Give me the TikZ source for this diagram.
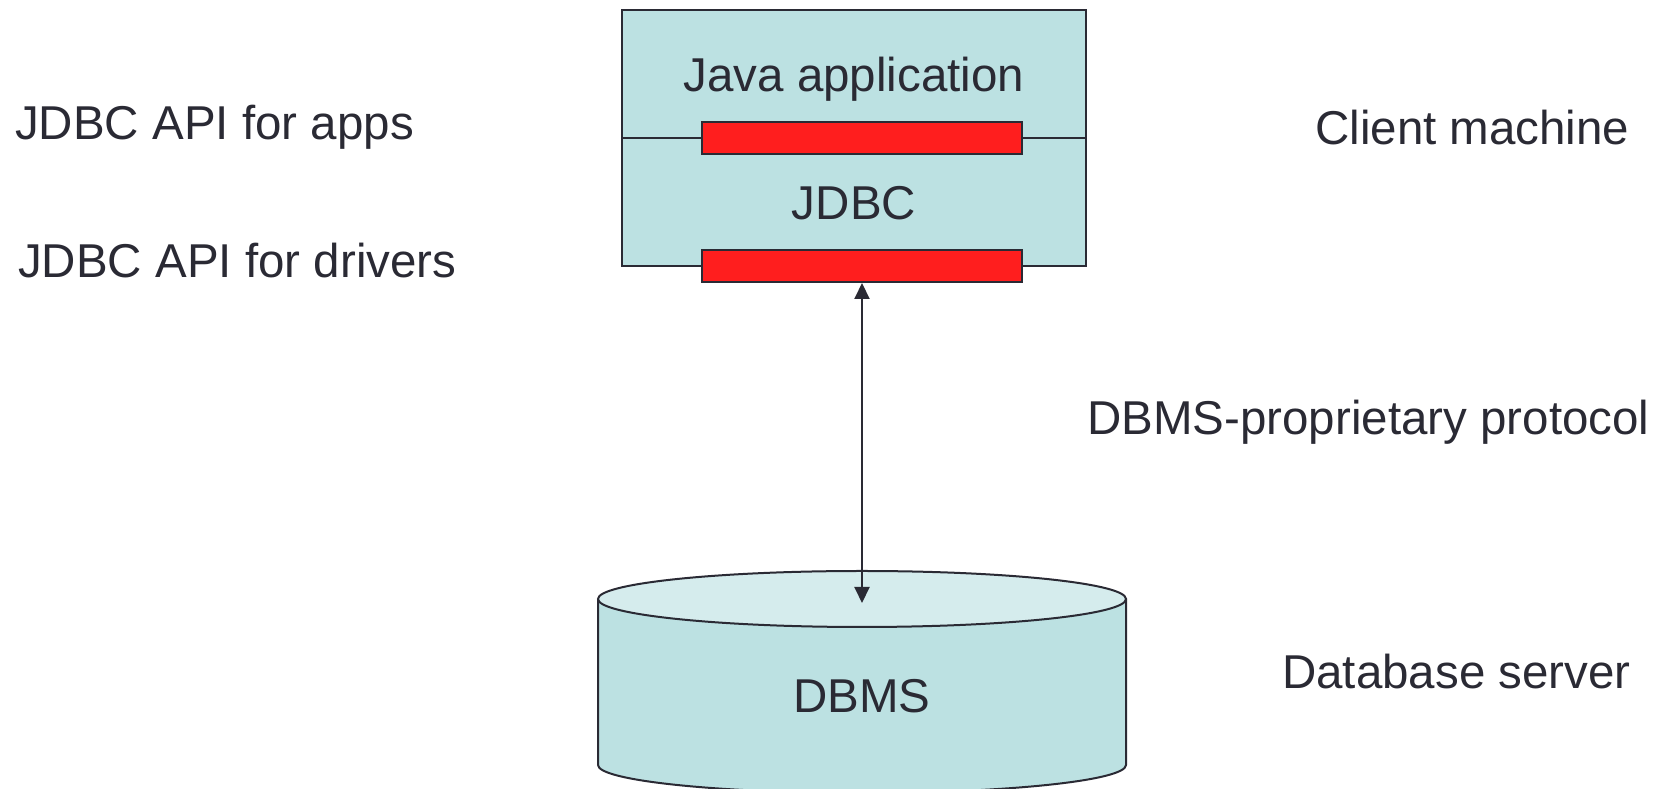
\documentclass[tikz,border=0pt]{standalone}
\usepackage{fontspec}
\setmainfont{Liberation Sans}
\usetikzlibrary{arrows.meta}
\definecolor{inkdark}{RGB}{42,42,52}
\definecolor{tealfill}{RGB}{188,225,226}
\definecolor{tealtop}{RGB}{213,236,237}
\definecolor{apired}{RGB}{255,30,30}
\tikzset{
  lbl/.style={font=\fontsize{47.5}{57}\selectfont, text=inkdark, inner sep=0pt},
  layerbox/.style={draw=inkdark, line width=2pt, fill=tealfill, minimum width=464pt,
    minimum height=256pt, inner sep=0pt},
  redbar/.style={draw=inkdark, line width=2pt, fill=apired, minimum width=320pt,
    minimum height=32pt, inner sep=0pt},
  dbline/.style={draw=inkdark, line width=2pt},
  protoarrow/.style={draw=inkdark, line width=2pt,
    {Triangle[length=16pt,width=15pt]}-{Triangle[length=16pt,width=15pt]}}
}
\begin{document}
\begin{tikzpicture}[x=1pt,y=1pt]
\useasboundingbox (0,0) rectangle (1658,789);

% client machine: application layer above the JDBC layer
\node[layerbox] (machine) at (854,651) {};
\draw[draw=inkdark, line width=1.5pt] (machine.west) -- (machine.east);
\node[redbar] (appapi) at (862,651) {};
\node[redbar] (drvapi) at (862,523) {};
\node[lbl, anchor=base] (java) at (854,697) {Java application};
\node[lbl, anchor=base] (jdbc) at (854,569) {JDBC};

% database server drawn as a cylinder
\fill[tealfill] (598,190) -- (598,24) arc[start angle=180, end angle=360, x radius=264, y radius=28]
  -- (1126,190) -- cycle;
\draw[dbline] (598,190) -- (598,24) arc[start angle=180, end angle=360, x radius=264, y radius=28]
  -- (1126,190);
\draw[dbline, fill=tealtop] (862,190) ellipse[x radius=264, y radius=28];
\node[lbl, anchor=base] (dbms) at (862,76) {DBMS};
\coordinate (dbtip) at (862,186);

% protocol link
\draw[protoarrow] (drvapi.south) -- (dbtip);

% side labels
\node[lbl, anchor=base west] (apps) at (15,649) {JDBC API for apps};
\node[lbl, anchor=base west] (drivers) at (18,511) {JDBC API for drivers};
\node[lbl, anchor=base west] (client) at (1315,644) {Client machine};
\node[lbl, anchor=base west] (proto) at (1087,354) {DBMS-proprietary protocol};
\node[lbl, anchor=base west] (server) at (1282,100) {Database server};
\end{tikzpicture}
\end{document}
